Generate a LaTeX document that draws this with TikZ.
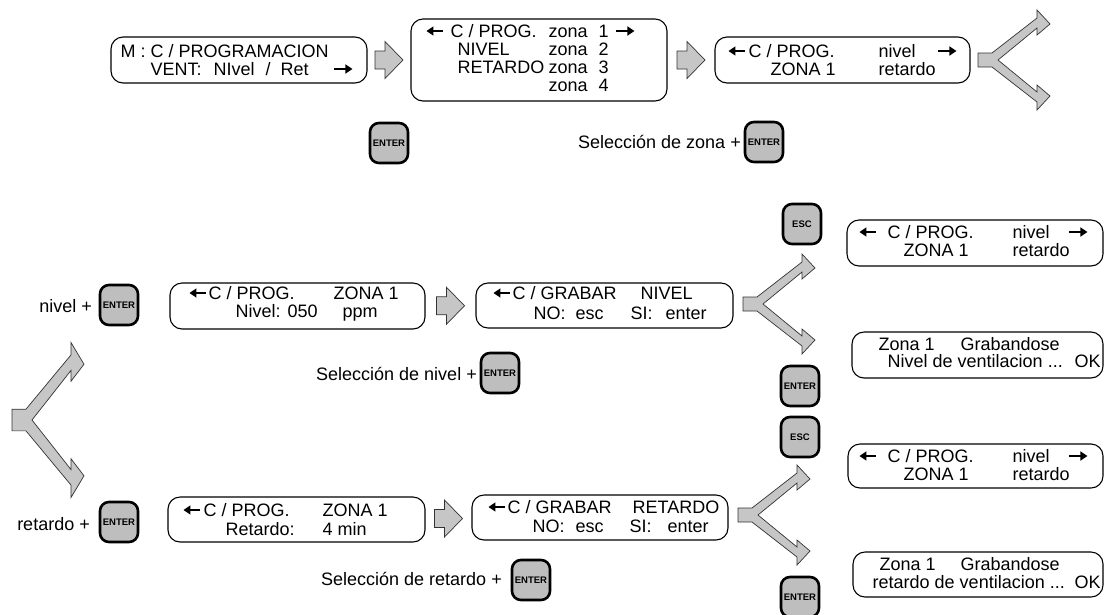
\documentclass[tikz,border=0pt]{standalone}
\usepackage{fontspec}
\setmainfont{Liberation Sans}
\usetikzlibrary{calc,arrows.meta}
\definecolor{keygray}{RGB}{190,190,190}
\definecolor{arrowgray}{RGB}{198,198,198}
\newcommand{\lcdfont}{\fontsize{18}{18}\selectfont}
\newcommand{\cell}[2]{\makebox[0pt][l]{\hspace*{#1pt}#2}}
% little display arrows
\newcommand{\rarr}{\tikz[baseline=-6pt]\draw[line width=1.5pt,-{Triangle[length=7pt,width=9pt]}] (0pt,0pt) -- (18pt,0pt);}
\newcommand{\larr}{\tikz[baseline=-6pt]\draw[line width=1.5pt,{Triangle[length=7pt,width=9pt]}-] (0pt,0pt) -- (17pt,0pt);}
% flat block arrow, centred on #1
\newcommand{\blockarrow}[1]{\draw[arrowshape,shift={#1}] (-14,-9) -- (-4,-9) -- (-4,-18.5) -- (14,0) -- (-4,18.5) -- (-4,9) -- (-14,9) -- cycle;}
% split arrow, stem at #1, stretched by #2
\newcommand{\forkarrow}[2]{\draw[arrowshape,shift={#1},yscale=#2] (0,-7) -- (14,-7) -- (59,-42) -- (59,-50) -- (72,-36) -- (59,-25) -- (59,-32) -- (20,0) -- (59,32) -- (59,25) -- (72,36) -- (59,50) -- (59,42) -- (14,7) -- (0,7) -- cycle;}
\begin{document}
\begin{tikzpicture}[x=1pt,y=-1pt]
        \tikzstyle{lcd}=[draw, line width=1.1pt, rounded corners=12pt];
        \tikzstyle{txt}=[anchor=base west, inner sep=0pt, font=\lcdfont];
        \tikzstyle{lbl}=[anchor=base east, inner sep=0pt, font=\lcdfont];
        \tikzstyle{key}=[draw, line width=2.6pt, rounded corners=9pt, fill=keygray, minimum width=38pt, minimum height=40pt, inner sep=0pt, font=\fontsize{9.5}{10}\selectfont\bfseries];
        \tikzstyle{arrowshape}=[draw=black!80, line width=0.7pt, fill=arrowgray];
        \useasboundingbox (0,0) rectangle (1105,614);

        % displays
        \node[lcd, minimum width=256pt, minimum height=46pt] (menu) at (239,60) {};
        \node[lcd, minimum width=256pt, minimum height=82pt] (zonas) at (539,60) {};
        \node[lcd, minimum width=255pt, minimum height=46pt] (sel1) at (842.5,60) {};
        \node[lcd, minimum width=255pt, minimum height=46pt] (niv) at (297.5,306) {};
        \node[lcd, minimum width=257pt, minimum height=45pt] (grabn) at (604.5,305.5) {};
        \node[lcd, minimum width=256pt, minimum height=46pt] (sel2) at (975,243) {};
        \node[lcd, minimum width=251pt, minimum height=46pt] (okn) at (977.5,355) {};
        \node[lcd, minimum width=257pt, minimum height=45pt] (ret) at (296.5,519.5) {};
        \node[lcd, minimum width=256pt, minimum height=45pt] (grabr) at (600,517.5) {};
        \node[lcd, minimum width=255pt, minimum height=44pt] (sel3) at (975.5,466) {};
        \node[lcd, minimum width=250pt, minimum height=45pt] (okr) at (978,574.5) {};

        \node[txt] (menuA) at (120,57) {\cell{0}{M : C / PROGRAMACION}};
        \node[txt] (menuB) at (150,75) {\cell{0}{VENT:}\cell{63}{NIvel}\cell{115}{/}\cell{130}{Ret}\cell{183}{\rarr}};
        \node[txt] (zonasA) at (425,37) {\cell{0}{\larr}\cell{25}{C / PROG.}\cell{123}{zona}\cell{173}{1}\cell{190}{\rarr}};
        \node[txt] (zonasB) at (457,55) {\cell{0}{NIVEL}\cell{91}{zona}\cell{141}{2}};
        \node[txt] (zonasC) at (457,73) {\cell{0}{RETARDO}\cell{91}{zona}\cell{141}{3}};
        \node[txt] (zonasD) at (548,91) {\cell{0}{zona}\cell{50}{4}};
        \node[txt] (sel1A) at (727,57) {\cell{0}{\larr}\cell{21}{C / PROG.}\cell{151}{nivel}\cell{210}{\rarr}};
        \node[txt] (sel1B) at (770,75) {\cell{0}{ZONA 1}\cell{108}{retardo}};
        \node[txt] (nivA) at (188,299) {\cell{0}{\larr}\cell{20}{C / PROG.}\cell{145}{ZONA 1}};
        \node[txt] (nivB) at (235,317) {\cell{0}{Nivel:}\cell{52}{050}\cell{107}{ppm}};
        \node[txt] (grabnA) at (492,299) {\cell{0}{\larr}\cell{20}{C / GRABAR}\cell{148}{NIVEL}};
        \node[txt] (grabnB) at (533,319) {\cell{0}{NO:}\cell{42}{esc}\cell{97}{SI:}\cell{132}{enter}};
        \node[txt] (sel2A) at (858,238) {\cell{0}{\larr}\cell{29}{C / PROG.}\cell{154}{nivel}\cell{210}{\rarr}};
        \node[txt] (sel2B) at (903,256) {\cell{0}{ZONA 1}\cell{109}{retardo}};
        \node[txt] (oknA) at (878,350) {\cell{0}{Zona 1}\cell{82}{Grabandose}};
        \node[txt] (oknB) at (887,367) {\cell{0}{Nivel de ventilacion ...}\cell{187}{OK}};
        \node[txt] (retA) at (182,516) {\cell{0}{\larr}\cell{21}{C / PROG.}\cell{140}{ZONA 1}};
        \node[txt] (retB) at (225,535) {\cell{0}{Retardo:}\cell{97}{4 min}};
        \node[txt] (grabrA) at (487,513) {\cell{0}{\larr}\cell{20}{C / GRABAR}\cell{145}{RETARDO}};
        \node[txt] (grabrB) at (532,532) {\cell{0}{NO:}\cell{43}{esc}\cell{97}{SI:}\cell{135}{enter}};
        \node[txt] (sel3A) at (858,462) {\cell{0}{\larr}\cell{29}{C / PROG.}\cell{154}{nivel}\cell{210}{\rarr}};
        \node[txt] (sel3B) at (903,480) {\cell{0}{ZONA 1}\cell{109}{retardo}};
        \node[txt] (okrA) at (879,570) {\cell{0}{Zona 1}\cell{81}{Grabandose}};
        \node[txt] (okrB) at (872,588) {\cell{0}{retardo de ventilacion ...}\cell{202}{OK}};

        % keys
        \foreach \n/\x/\y/\t in {enter1/389/143/ENTER, enter2/764/142/ENTER, enter3/119/305/ENTER,
            enter4/500/373/ENTER, esc1/802/224/ESC, enter5/800/386/ENTER, esc2/800/437/ESC,
            enter6/800/597/ENTER, enter7/119/522/ENTER, enter8/531/580/ENTER}{
          \node[key] (\n) at (\x,\y) {\t};
        }
        \node[lbl] (selzona) at (741,148) {Selección de zona +};
        \node[lbl] (selniv) at (477,380) {Selección de nivel +};
        \node[lbl] (selret) at (502,585) {Selección de retardo +};
        \node[lbl] (nivplus) at (92,312) {nivel +};
        \node[lbl] (retplus) at (90,530) {retardo +};

        % arrows
        \path ($(menu.east)!.5!(zonas.west)$) coordinate (a1)
              ($(zonas.east)!.5!(sel1.west)$) coordinate (a2)
              ($(niv.east)!.5!(grabn.west)$) coordinate (a3)
              ($(ret.east)!.5!(grabr.west)$) coordinate (a4);
        \blockarrow{(a1)}
        \blockarrow{(a2)}
        \blockarrow{(a3)}
        \blockarrow{(a4)}
        \forkarrow{(978,60)}{1}
        \forkarrow{(743,304)}{1}
        \forkarrow{(738,515)}{1}
        \forkarrow{(12,420)}{1.55}
      \end{tikzpicture}
\end{document}
